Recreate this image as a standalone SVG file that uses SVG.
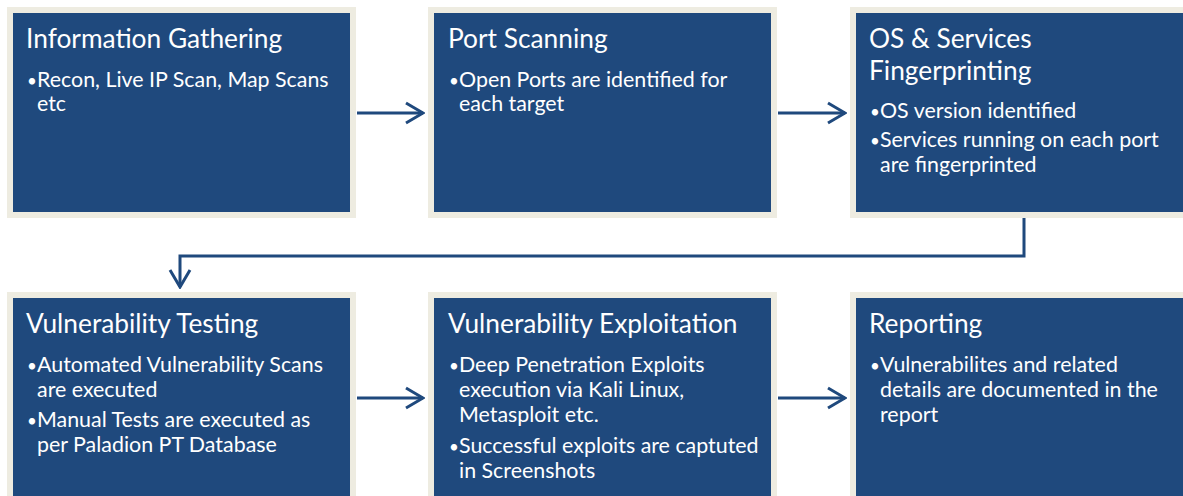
<svg xmlns="http://www.w3.org/2000/svg" width="1183" height="496" viewBox="0 0 1183 496">
<style>
.box{fill:#1F497D;stroke:#EEECE1;stroke-width:6}
.t{font-family:Lato,"Liberation Sans",sans-serif;fill:#FFFFFF;font-size:26.3px}
.b{font-family:Lato,"Liberation Sans",sans-serif;fill:#FFFFFF;font-size:21.4px}
.d{font-size:17px}
.c{fill:none;stroke:#1F497D;stroke-width:3}
</style>
<defs>
<marker id="ah" markerUnits="userSpaceOnUse" viewBox="0 0 20 24" refX="18" refY="12" markerWidth="20" markerHeight="24" orient="auto">
<path d="M1,2 L18,12 L1,22" fill="none" stroke="#1F497D" stroke-width="3"/>
</marker>
</defs>
<rect width="1183" height="496" fill="#FFFFFF"/>
<g id="connectors">
<line class="c" x1="357" y1="113" x2="423" y2="113" marker-end="url(#ah)"/>
<line class="c" x1="778" y1="113" x2="845" y2="113" marker-end="url(#ah)"/>
<polyline class="c" points="1024,218 1024,256 180,256 180,287" marker-end="url(#ah)"/>
<line class="c" x1="357" y1="398" x2="423" y2="398" marker-end="url(#ah)"/>
<line class="c" x1="778" y1="398" x2="845" y2="398" marker-end="url(#ah)"/>
</g>
<g id="node1">
<rect class="box" x="10" y="10" width="343" height="205"/>
<text class="t" x="26" y="48">Information Gathering</text>
<text class="b" y="87"><tspan class="d" x="27">•</tspan><tspan x="37">Recon, Live IP Scan, Map Scans</tspan></text>
<text class="b" x="37" y="111">etc</text>
</g>
<g id="node2">
<rect class="box" x="431" y="10" width="343" height="205"/>
<text class="t" x="448" y="48">Port Scanning</text>
<text class="b" y="87"><tspan class="d" x="449">•</tspan><tspan x="459">Open Ports are identified for</tspan></text>
<text class="b" x="459" y="111">each target</text>
</g>
<g id="node3">
<rect class="box" x="853" y="10" width="343" height="205"/>
<text class="t" x="869" y="48">OS &amp; Services</text>
<text class="t" x="869" y="80">Fingerprinting</text>
<text class="b" y="118"><tspan class="d" x="870">•</tspan><tspan x="880">OS version identified</tspan></text>
<text class="b" y="147"><tspan class="d" x="870">•</tspan><tspan x="880">Services running on each port</tspan></text>
<text class="b" x="880" y="172">are fingerprinted</text>
</g>
<g id="node4">
<rect class="box" x="10" y="295" width="343" height="215"/>
<text class="t" x="26" y="333">Vulnerability Testing</text>
<text class="b" y="372"><tspan class="d" x="27">•</tspan><tspan x="37">Automated Vulnerability Scans</tspan></text>
<text class="b" x="37" y="397">are executed</text>
<text class="b" y="427"><tspan class="d" x="27">•</tspan><tspan x="37">Manual Tests are executed as</tspan></text>
<text class="b" x="37" y="452">per Paladion PT Database</text>
</g>
<g id="node5">
<rect class="box" x="431" y="295" width="343" height="215"/>
<text class="t" x="448" y="333">Vulnerability Exploitation</text>
<text class="b" y="372"><tspan class="d" x="449">•</tspan><tspan x="459">Deep Penetration Exploits</tspan></text>
<text class="b" x="459" y="397">execution via Kali Linux,</text>
<text class="b" x="459" y="422">Metasploit etc.</text>
<text class="b" y="453"><tspan class="d" x="449">•</tspan><tspan x="459">Successful exploits are captuted</tspan></text>
<text class="b" x="459" y="478">in Screenshots</text>
</g>
<g id="node6">
<rect class="box" x="853" y="295" width="343" height="215"/>
<text class="t" x="869" y="333">Reporting</text>
<text class="b" y="372"><tspan class="d" x="870">•</tspan><tspan x="880">Vulnerabilites and related</tspan></text>
<text class="b" x="880" y="397">details are documented in the</text>
<text class="b" x="880" y="422">report</text>
</g>
</svg>
